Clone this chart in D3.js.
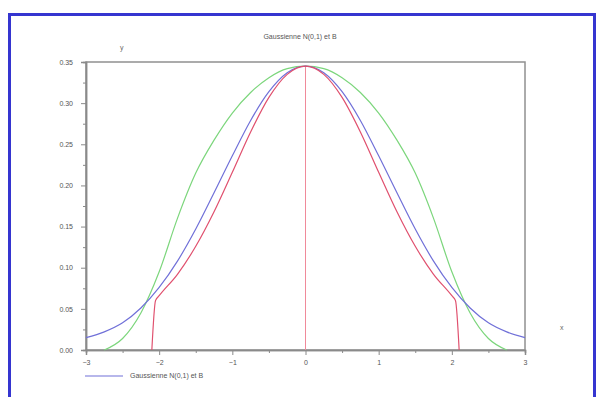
<!DOCTYPE html>
<html>
<head>
<meta charset="utf-8">
<script src="https://cdn.jsdelivr.net/npm/d3@7"></script>
<style>
  body { margin: 0; background: #fff; }
  text { font-family: "Liberation Sans", Arial, sans-serif; }
</style>
</head>
<body>
<div id="chart"></div>
<script>
// values (x in axis units, y in axis units)
var xTicks = [-3, -2, -1, 0, 1, 2, 3];
var yTicks = [0, 0.05, 0.10, 0.15, 0.20, 0.25, 0.30, 0.35];

var blueX = [-3, -2.75, -2.5, -2.25, -2, -1.75, -1.5, -1.25, -1, -0.75, -0.5, -0.25, 0,
             0.25, 0.5, 0.75, 1, 1.25, 1.5, 1.75, 2, 2.25, 2.5, 2.75, 3];
var blueY = [0.015, 0.022, 0.033, 0.051, 0.076, 0.108, 0.147, 0.191, 0.236, 0.279, 0.314, 0.337, 0.345,
             0.337, 0.314, 0.279, 0.236, 0.191, 0.147, 0.108, 0.076, 0.051, 0.033, 0.022, 0.015];

var greenX = [-2.75, -2.5, -2.25, -2, -1.75, -1.5, -1.25, -1, -0.75, -0.5, -0.25, 0,
              0.25, 0.5, 0.75, 1, 1.25, 1.5, 1.75, 2, 2.25, 2.5, 2.75];
var greenY = [0.0, 0.014, 0.045, 0.095, 0.160, 0.215, 0.255, 0.288, 0.313, 0.331, 0.342, 0.345,
              0.342, 0.331, 0.313, 0.288, 0.255, 0.215, 0.160, 0.095, 0.045, 0.014, 0.0];

var redX = [-2.1, -2.05, -2, -1.75, -1.5, -1.25, -1, -0.75, -0.5, -0.25, 0,
            0.25, 0.5, 0.75, 1, 1.25, 1.5, 1.75, 2, 2.05, 2.1];
var redY = [0.0, 0.060, 0.066, 0.092, 0.126, 0.168, 0.216, 0.265, 0.307, 0.335, 0.345,
            0.335, 0.307, 0.265, 0.216, 0.168, 0.126, 0.092, 0.066, 0.060, 0.0];

var midX = [0, 0];
var midY = [0, 0.345];

var titleText = "Gaussienne N(0,1) et B";
var legendText = "Gaussienne N(0,1) et B";

var w = 602, h = 397;
var margin = {top: 62, right: 77, bottom: 47, left: 86};

var svg = d3.select("#chart").append("svg")
    .attr("width", w)
    .attr("height", h);

// blue frame
svg.append("rect")
    .attr("x", 9.5).attr("y", 14.5)
    .attr("width", 585).attr("height", 390)
    .attr("fill", "none")
    .attr("stroke", "#3535d0")
    .attr("stroke-width", 3);

var x = d3.scaleLinear().domain([-3, 3]).range([margin.left, w - margin.right]);
var y = d3.scaleLinear().domain([0, 0.35]).range([h - margin.bottom, margin.top]);

// box
svg.append("rect")
    .attr("x", x(-3)).attr("y", y(0.35))
    .attr("width", x(3) - x(-3)).attr("height", y(0) - y(0.35))
    .attr("fill", "none")
    .attr("stroke", "#909090")
    .attr("stroke-width", 1.5);

svg.append("g")
    .attr("transform", "translate(0," + y(0) + ")")
    .call(d3.axisBottom(x).tickValues(xTicks).tickSize(5).tickPadding(5).tickFormat(d3.format("d")));
svg.append("g")
    .attr("transform", "translate(0," + y(0) + ")")
    .call(d3.axisBottom(x).tickValues(d3.range(-2.5, 3, 1)).tickSize(3).tickFormat(""));

svg.append("g")
    .attr("transform", "translate(" + x(-3) + ",0)")
    .call(d3.axisLeft(y).tickValues(yTicks).tickSize(5).tickPadding(8).tickFormat(d3.format(".2f")));
svg.append("g")
    .attr("transform", "translate(" + x(-3) + ",0)")
    .call(d3.axisLeft(y).tickValues(d3.range(0.025, 0.35, 0.05)).tickSize(3).tickFormat(""));

svg.selectAll(".domain").attr("stroke", "#8a8a8a").attr("stroke-width", 1.5);
svg.selectAll(".tick line").attr("stroke", "#8a8a8a");
svg.selectAll(".tick text")
    .attr("fill", "#555")
    .style("font-size", "7px")
    .style("font-family", "Liberation Sans, Arial, sans-serif");

var line = d3.line()
    .x(function(d){ return x(d[0]); })
    .y(function(d){ return y(d[1]); })
    .curve(d3.curveMonotoneX);

function pairs(xs, ys){
    return xs.map(function(v, i){ return [v, ys[i]]; });
}

svg.append("path")
    .datum(pairs(midX, midY))
    .attr("d", d3.line().x(function(d){ return x(d[0]); }).y(function(d){ return y(d[1]); }))
    .attr("fill", "none")
    .attr("stroke", "#f08a9a")
    .attr("stroke-width", 1);

svg.append("path")
    .datum(pairs(greenX, greenY))
    .attr("d", line)
    .attr("fill", "none")
    .attr("stroke", "#7cd67c")
    .attr("stroke-width", 1.2);

svg.append("path")
    .datum(pairs(blueX, blueY))
    .attr("d", line)
    .attr("fill", "none")
    .attr("stroke", "#7070d8")
    .attr("stroke-width", 1.2);

svg.append("path")
    .datum(pairs(redX, redY))
    .attr("d", line)
    .attr("fill", "none")
    .attr("stroke", "#e0506e")
    .attr("stroke-width", 1.2);

// title and axis names
svg.append("text")
    .attr("x", 300).attr("y", 39)
    .attr("text-anchor", "middle")
    .attr("fill", "#555")
    .style("font-size", "7px")
    .text(titleText);

svg.append("text")
    .attr("x", 120).attr("y", 50)
    .attr("fill", "#666")
    .style("font-size", "7px")
    .text("y");

svg.append("text")
    .attr("x", 560).attr("y", 330)
    .attr("fill", "#666")
    .style("font-size", "7px")
    .text("x");

// legend
svg.append("line")
    .attr("x1", 85).attr("x2", 123)
    .attr("y1", 376).attr("y2", 376)
    .attr("stroke", "#7070d8")
    .attr("stroke-width", 1.2);

svg.append("text")
    .attr("x", 130).attr("y", 378)
    .attr("fill", "#555")
    .style("font-size", "7px")
    .text(legendText);
</script>
</body>
</html>
